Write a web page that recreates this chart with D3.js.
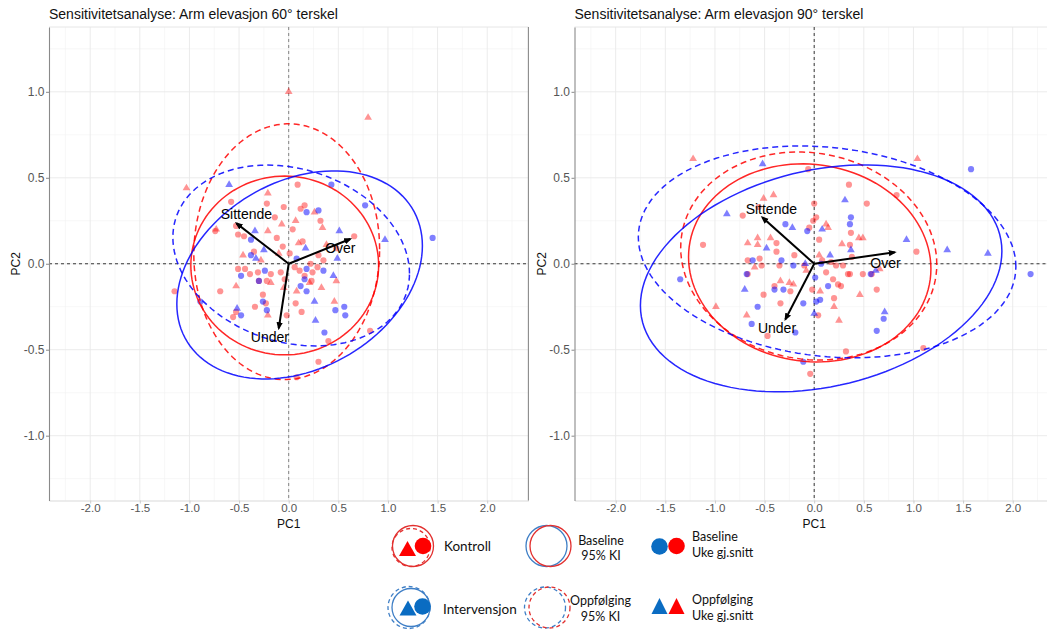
<!DOCTYPE html>
<html>
<head>
<meta charset="utf-8">
<script src="https://cdn.jsdelivr.net/npm/d3@7"></script>
<style>
  body { margin: 0; background: #fff; }
  svg { display: block; }
</style>
</head>
<body>
<div id="container"><svg></svg></div>
<script>
let width = 1047, height = 631;

// ---- data ----
let panel_titles = ['Sensitivitetsanalyse: Arm elevasjon 60° terskel', 'Sensitivitetsanalyse: Arm elevasjon 90° terskel'];
let x_ticks = [-2.0, -1.5, -1.0, -0.5, 0.0, 0.5, 1.0, 1.5, 2.0];
let y_ticks = [-1.0, -0.5, 0.0, 0.5, 1.0];
let x_minor = [-2.25, -1.75, -1.25, -0.75, -0.25, 0.25, 0.75, 1.25, 1.75, 2.25];
let y_minor = [-1.25, -0.75, -0.25, 0.25, 0.75, 1.25];
let loading_names = ['Sittende', 'Over', 'Under'];

// 60° terskel
let load60 = [[-0.526, 0.235], [0.62, 0.144], [-0.10, -0.375]];
let labpos60 = [[-0.426, 0.29], [0.52, 0.09], [-0.19, -0.427]];
// ellipse: [cx, cy, rx, ry, rho]
let ell60_kontroll_base = [-0.04, -0.01, 0.946, 0.52, 0.0];
let ell60_kontroll_opp = [-0.02, 0.07, 0.936, 0.744, 0.02];
let ell60_interv_base = [0.11, -0.065, 1.237, 0.605, 0.28];
let ell60_interv_opp = [0.025, 0.048, 1.192, 0.526, -0.2];

let pts60_kontroll_base = [[0.09,0.46],[-0.58,0.36],[-0.22,0.35],[0.12,0.32],[0.16,0.34],[0.32,0.25],[-0.53,0.22],[-0.74,0.19],[-0.51,0.17],[-0.45,0.16],[0.04,0.20],[-0.14,0.27],[0.66,0.16],[-0.06,0.10],[0.14,0.13],[0.30,0.05],[0.22,0.00],[-0.51,-0.03],[-0.44,-0.03],[-0.39,-0.06],[-0.31,-0.05],[-0.18,-0.06],[-0.30,-0.10],[-0.22,-0.10],[-0.08,-0.05],[-0.04,-0.09],[0.06,-0.02],[0.11,-0.04],[0.16,-0.07],[0.24,-0.05],[0.29,-0.02],[0.35,0.02],[0.23,-0.10],[-1.15,-0.16],[-0.69,-0.16],[-0.26,-0.18],[-0.23,-0.23],[-0.34,-0.25],[0.07,-0.23],[0.13,-0.28],[-0.53,-0.28],[-0.56,-0.31],[0.40,-0.45],[0.82,-0.39],[0.30,-0.57],[0.08,-0.66],[-0.05,0.33],[0.01,0.06],[-0.12,0.15],[-0.35,0.07],[0.48,0.09],[-0.02,-0.30]];
let pts60_kontroll_opp = [[0.00,1.00],[0.80,0.85],[-1.03,0.44],[-0.21,0.41],[-0.07,0.23],[0.07,0.25],[0.34,0.21],[0.26,0.30],[-0.73,0.20],[-0.21,0.19],[-0.46,0.05],[-0.10,0.06],[0.10,0.12],[-0.53,-0.13],[-0.18,-0.11],[0.21,-0.11],[0.48,-0.10],[0.33,-0.14],[0.08,-0.16],[0.46,-0.22],[-0.21,-0.30],[-0.05,-0.14],[0.38,0.11],[-0.28,0.02]];
let pts60_interv_base = [[0.43,0.46],[0.18,0.30],[0.30,0.31],[0.77,0.34],[1.45,0.15],[-0.38,0.14],[-0.38,0.05],[-0.24,-0.04],[-0.48,-0.07],[-0.30,-0.10],[0.12,-0.13],[0.18,-0.16],[0.18,-0.03],[0.16,-0.09],[0.35,-0.04],[-0.26,-0.22],[-0.89,-0.22],[-0.22,-0.27],[0.47,-0.27],[0.56,-0.25],[0.57,-0.30],[-0.48,-0.30],[0.36,-0.40],[0.08,0.03]];
let pts60_interv_opp = [[-0.60,0.46],[-0.34,0.19],[0.51,0.19],[0.97,0.14],[-0.25,0.08],[0.17,0.09],[0.49,0.03],[-0.33,0.03],[0.45,-0.07],[0.26,-0.22],[-0.52,-0.26],[0.27,-0.33]];

// 90° terskel
let load90 = [[-0.523, 0.27], [0.812, 0.067], [-0.29, -0.323]];
let labpos90 = [[-0.432, 0.319], [0.718, 0.006], [-0.375, -0.375]];
let ell90_kontroll_base = [-0.045, 0.005, 1.221, 0.576, -0.06];
let ell90_kontroll_opp = [-0.055, 0.045, 1.29, 0.605, -0.08];
let ell90_interv_base = [0.07, -0.085, 1.821, 0.66, 0.24];
let ell90_interv_opp = [0.13, 0.069, 1.902, 0.616, -0.14];

let pts90_kontroll_base = [[-0.06,0.55],[0.35,0.46],[0.53,0.35],[0.83,0.40],[-0.72,0.28],[-0.56,0.33],[0.00,0.35],[0.02,0.27],[-0.01,0.25],[-0.05,0.21],[0.05,0.14],[1.03,0.07],[-1.12,0.11],[-0.38,0.12],[-0.38,0.07],[-0.67,0.02],[-0.55,0.03],[-0.53,-0.01],[-0.35,-0.01],[-0.10,-0.01],[0.08,0.02],[0.17,0.01],[0.22,-0.01],[0.29,-0.01],[0.36,0.11],[0.38,0.04],[0.34,-0.06],[0.36,-0.06],[0.49,-0.06],[0.63,-0.15],[0.58,-0.06],[-0.67,-0.06],[-0.40,-0.13],[-0.51,-0.18],[-0.24,-0.16],[-0.34,-0.23],[0.19,-0.09],[0.24,-0.12],[0.27,-0.13],[0.20,-0.20],[-0.02,-0.15],[0.32,-0.51],[1.10,-0.49],[-0.47,-0.42],[-0.04,-0.64],[0.04,-0.30],[-0.20,0.05],[0.12,-0.05],[0.37,0.18]];
let pts90_kontroll_opp = [[-1.22,0.61],[1.04,0.61],[-0.51,0.38],[-0.41,0.40],[0.12,0.23],[0.14,0.21],[0.45,0.15],[0.49,0.15],[0.28,0.115],[-0.67,0.12],[-0.57,0.15],[-0.57,0.11],[-0.44,0.15],[-0.60,-0.02],[0.05,0.05],[-0.08,-0.04],[0.46,-0.18],[0.06,-0.16],[0.20,-0.25],[0.25,-0.33],[-0.34,-0.10],[-0.25,-0.11],[-0.21,-0.12],[-0.99,-0.25],[-0.68,-0.30],[0.66,-0.03]];
let pts90_interv_base = [[1.58,0.55],[-0.29,0.23],[-0.07,0.19],[0.37,0.27],[0.36,0.23],[2.18,-0.06],[-0.62,0.02],[-0.33,0.02],[-0.21,-0.01],[0.57,-0.06],[0.01,-0.08],[0.14,-0.13],[-0.68,-0.06],[-1.35,-0.09],[-0.40,-0.15],[-0.31,-0.15],[-0.11,-0.23],[0.02,-0.22],[0.06,-0.21],[-0.57,-0.25],[-0.63,-0.35],[-0.19,-0.40],[-0.11,-0.57],[0.70,-0.32],[0.63,-0.39],[0.07,0.00]];
let pts90_interv_opp = [[-0.52,0.58],[0.31,0.37],[-0.88,0.29],[-0.22,0.21],[0.08,0.20],[0.93,0.14],[1.34,0.08],[1.75,0.06],[-0.48,0.09],[0.16,0.05],[0.37,0.08],[0.62,-0.04],[0.71,-0.28],[-0.70,-0.15],[0.00,-0.29],[-0.09,0.00]];

// ---- style ----
let RED = '#ff0000', BLUE = '#0000ff';
let font = '"Liberation Sans", Arial, sans-serif';
let legend_font = 'Lato, "Noto Sans", sans-serif';

let svg = d3.select('#container').select('svg')
    .attr('width', width).attr('height', height);

svg.append('defs').append('marker')
    .attr('id', 'arrowhead')
    .attr('markerUnits', 'userSpaceOnUse')
    .attr('viewBox', '0 -4 8 8')
    .attr('refX', 6).attr('refY', 0)
    .attr('markerWidth', 8).attr('markerHeight', 8)
    .attr('orient', 'auto')
    .append('path').attr('d', 'M0,-3.2L8,0L0,3.2Z').attr('fill', '#000');

function ellipse_points(e) {
    let [cx, cy, rx, ry, rho] = e;
    let s = Math.sqrt(1 - rho * rho);
    return d3.range(0, 120).map(i => {
        let t = i / 120 * 2 * Math.PI;
        return [cx + rx * Math.cos(t), cy + ry * (rho * Math.cos(t) + s * Math.sin(t))];
    });
}

function draw_panel(cfg) {
    let x = d3.scaleLinear().domain([-2.415, 2.415]).range([cfg.left, cfg.left + 479.4]);
    let y = d3.scaleLinear().domain([-1.377, 1.377]).range([500.5, 27]);
    let g = svg.append('g');
    let [x0, x1] = x.range(), [y1, y0] = y.range();

    // grid
    g.append('g').selectAll('line').data(x_minor).join('line')
        .attr('x1', d => x(d)).attr('x2', d => x(d)).attr('y1', y0).attr('y2', y1)
        .attr('stroke', '#f2f2f2').attr('stroke-width', 0.6);
    g.append('g').selectAll('line').data(y_minor).join('line')
        .attr('y1', d => y(d)).attr('y2', d => y(d)).attr('x1', x0).attr('x2', x1)
        .attr('stroke', '#f2f2f2').attr('stroke-width', 0.6);
    g.append('g').selectAll('line').data(x_ticks).join('line')
        .attr('x1', d => x(d)).attr('x2', d => x(d)).attr('y1', y0).attr('y2', y1)
        .attr('stroke', '#e9e9e9').attr('stroke-width', 0.9);
    g.append('g').selectAll('line').data(y_ticks).join('line')
        .attr('y1', d => y(d)).attr('y2', d => y(d)).attr('x1', x0).attr('x2', x1)
        .attr('stroke', '#e9e9e9').attr('stroke-width', 0.9);
    g.append('line').attr('x1', x0).attr('x2', x1).attr('y1', y0).attr('y2', y0)
        .attr('stroke', '#e6e6e6');

    // zero lines
    g.append('line').attr('x1', x0).attr('x2', x1).attr('y1', y(0)).attr('y2', y(0))
        .attr('stroke', '#222').attr('stroke-dasharray', '3,3').attr('stroke-width', 0.9);
    g.append('line').attr('x1', x(0)).attr('x2', x(0)).attr('y1', y0).attr('y2', y1)
        .attr('stroke', cfg.vcol).attr('stroke-dasharray', '3,3').attr('stroke-width', 0.9);

    // axes
    let fmt = d => d.toFixed(1);
    let ax = g.append('g').attr('transform', `translate(0,${y1})`)
        .call(d3.axisBottom(x).tickValues(x_ticks).tickFormat(fmt).tickSize(3).tickSizeOuter(0));
    ax.select('.domain').attr('stroke', '#d9d9d9');
    ax.selectAll('.tick line').attr('stroke', '#cccccc');
    ax.selectAll('text').attr('fill', '#555').style('font', `11.5px ${font}`).attr('dy', '0.72em').attr('y', 3.5);
    let ay = g.append('g').attr('transform', `translate(${x0},0)`)
        .call(d3.axisLeft(y).tickValues(y_ticks).tickFormat(fmt).tickSize(3).tickSizeOuter(0));
    ay.select('.domain').attr('stroke', '#8a8a8a').attr('stroke-width', 1.1);
    ay.selectAll('.tick line').attr('stroke', '#8a8a8a');
    ay.selectAll('text').attr('fill', '#555').style('font', `12px ${font}`).attr('x', -4.5);

    g.append('text').attr('x', (x(0))).attr('y', 528).attr('text-anchor', 'middle')
        .style('font', `12px ${font}`).attr('fill', '#111').text('PC1');
    g.append('text').attr('transform', `translate(${x0 - 29},${y(0)}) rotate(-90)`)
        .attr('text-anchor', 'middle').style('font', `12px ${font}`).attr('fill', '#111').text('PC2');
    g.append('text').attr('x', x0).attr('y', 19)
        .style('font', `14px ${font}`).attr('fill', '#111').text(cfg.title);

    // points
    let circ = d3.symbol(d3.symbolCircle, 30);
    let tri = d3.symbol(d3.symbolTriangle, 26);
    let groups = [
        [cfg.kb, circ, RED, 0.42], [cfg.ko, tri, RED, 0.42],
        [cfg.ib, circ, BLUE, 0.5], [cfg.io, tri, BLUE, 0.5]
    ];
    groups.forEach(([pts, sym, col, op]) => {
        g.append('g').selectAll('path').data(pts).join('path')
            .attr('d', sym)
            .attr('transform', d => `translate(${x(d[0])},${y(d[1])})`)
            .attr('fill', col).attr('fill-opacity', op);
    });

    // ellipses
    let line = d3.line().x(d => x(d[0])).y(d => y(d[1])).curve(d3.curveLinearClosed);
    let ells = [
        [cfg.ekb, RED, null], [cfg.eko, RED, '6,4'],
        [cfg.eib, BLUE, null], [cfg.eio, BLUE, '6,4']
    ];
    ells.forEach(([e, col, dash]) => {
        g.append('path').attr('d', line(ellipse_points(e)))
            .attr('fill', 'none').attr('stroke', col).attr('stroke-width', 1.5)
            .attr('stroke-opacity', 0.85)
            .attr('stroke-dasharray', dash);
    });

    // loadings
    g.append('g').selectAll('line').data(cfg.load).join('line')
        .attr('x1', x(0)).attr('y1', y(0))
        .attr('x2', d => x(d[0])).attr('y2', d => y(d[1]))
        .attr('stroke', '#000').attr('stroke-width', 2)
        .attr('marker-end', 'url(#arrowhead)');
    g.append('g').selectAll('text').data(cfg.labpos).join('text')
        .attr('x', d => x(d[0])).attr('y', d => y(d[1]) + 5)
        .attr('text-anchor', 'middle').style('font', `14px ${font}`).attr('fill', '#000')
        .text((d, i) => loading_names[i]);

    if (cfg.border) {
        g.append('line').attr('x1', x1).attr('x2', x1).attr('y1', y0).attr('y2', y1)
            .attr('stroke', '#8a8a8a').attr('stroke-width', 1.1);
    }
}

draw_panel({
    title: panel_titles[0], left: 49, vcol: '#777', border: true,
    kb: pts60_kontroll_base, ko: pts60_kontroll_opp, ib: pts60_interv_base, io: pts60_interv_opp,
    ekb: ell60_kontroll_base, eko: ell60_kontroll_opp, eib: ell60_interv_base, eio: ell60_interv_opp,
    load: load60, labpos: labpos60
});
draw_panel({
    title: panel_titles[1], left: 574.5, vcol: '#222', border: false,
    kb: pts90_kontroll_base, ko: pts90_kontroll_opp, ib: pts90_interv_base, io: pts90_interv_opp,
    ekb: ell90_kontroll_base, eko: ell90_kontroll_opp, eib: ell90_interv_base, eio: ell90_interv_opp,
    load: load90, labpos: labpos90
});

// ---- legend ----
function legend() {
    let L = svg.append('g');
    let LR = '#ff0000', LB = '#0a6cc2';
    let LRo = '#e2302f', LBo = '#3f7fc6';
    function ring(cx, cy, r, col, dash) {
        L.append('circle').attr('cx', cx).attr('cy', cy).attr('r', r)
            .attr('fill', 'none').attr('stroke', col).attr('stroke-width', 1.3)
            .attr('stroke-dasharray', dash);
    }
    function tri(cx, cy, w, h, col) {
        L.append('path')
            .attr('d', `M${cx - w / 2},${cy + h / 2}L${cx + w / 2},${cy + h / 2}L${cx},${cy - h / 2}Z`)
            .attr('fill', col);
    }
    function dot(cx, cy, r, col) {
        L.append('circle').attr('cx', cx).attr('cy', cy).attr('r', r).attr('fill', col);
    }
    function txt(x, y, s, size, anchor) {
        L.append('text').attr('x', x).attr('y', y).attr('text-anchor', anchor || 'start')
            .style('font', `${size}px ${legend_font}`).attr('fill', '#111').text(s);
    }
    // Kontroll
    ring(413, 546, 20.5, LRo, null);
    ring(411, 547.5, 19, LRo, '4,3');
    tri(407.5, 548.5, 17, 15, LR);
    dot(423, 546, 8.3, LR);
    txt(444, 551, 'Kontroll', 13.5);
    // Intervensjon
    ring(411, 607.5, 19, LBo, null);
    ring(409, 607.5, 21, LBo, '4,3');
    tri(408, 608, 17, 15, LB);
    dot(422.5, 606.5, 8.3, LB);
    txt(443, 614, 'Intervensjon', 13.5);
    // Baseline 95% KI
    ring(546.5, 546, 20.5, LBo, null);
    ring(550.5, 546, 20.5, LRo, null);
    txt(601, 544.5, 'Baseline', 12.5, 'middle');
    txt(601, 560, '95% KI', 12.5, 'middle');
    // Oppfølging 95% KI
    ring(545, 607.5, 20.5, LBo, '4,3');
    ring(549.5, 607.5, 20.5, LRo, '4,3');
    txt(600.5, 605, 'Oppfølging', 12.5, 'middle');
    txt(600.5, 621, '95% KI', 12.5, 'middle');
    // Uke gj.snitt
    dot(659.5, 546.5, 8.3, LB);
    dot(676.5, 546, 8.3, LR);
    txt(692, 541, 'Baseline', 12.5);
    txt(692, 557, 'Uke gj.snitt', 12.5);
    tri(659.5, 606, 16, 16, LB);
    tri(676.5, 606, 16, 16, LR);
    txt(692, 604, 'Oppfølging', 12.5);
    txt(692, 620, 'Uke gj.snitt', 12.5);
}
legend();
</script>
</body>
</html>
